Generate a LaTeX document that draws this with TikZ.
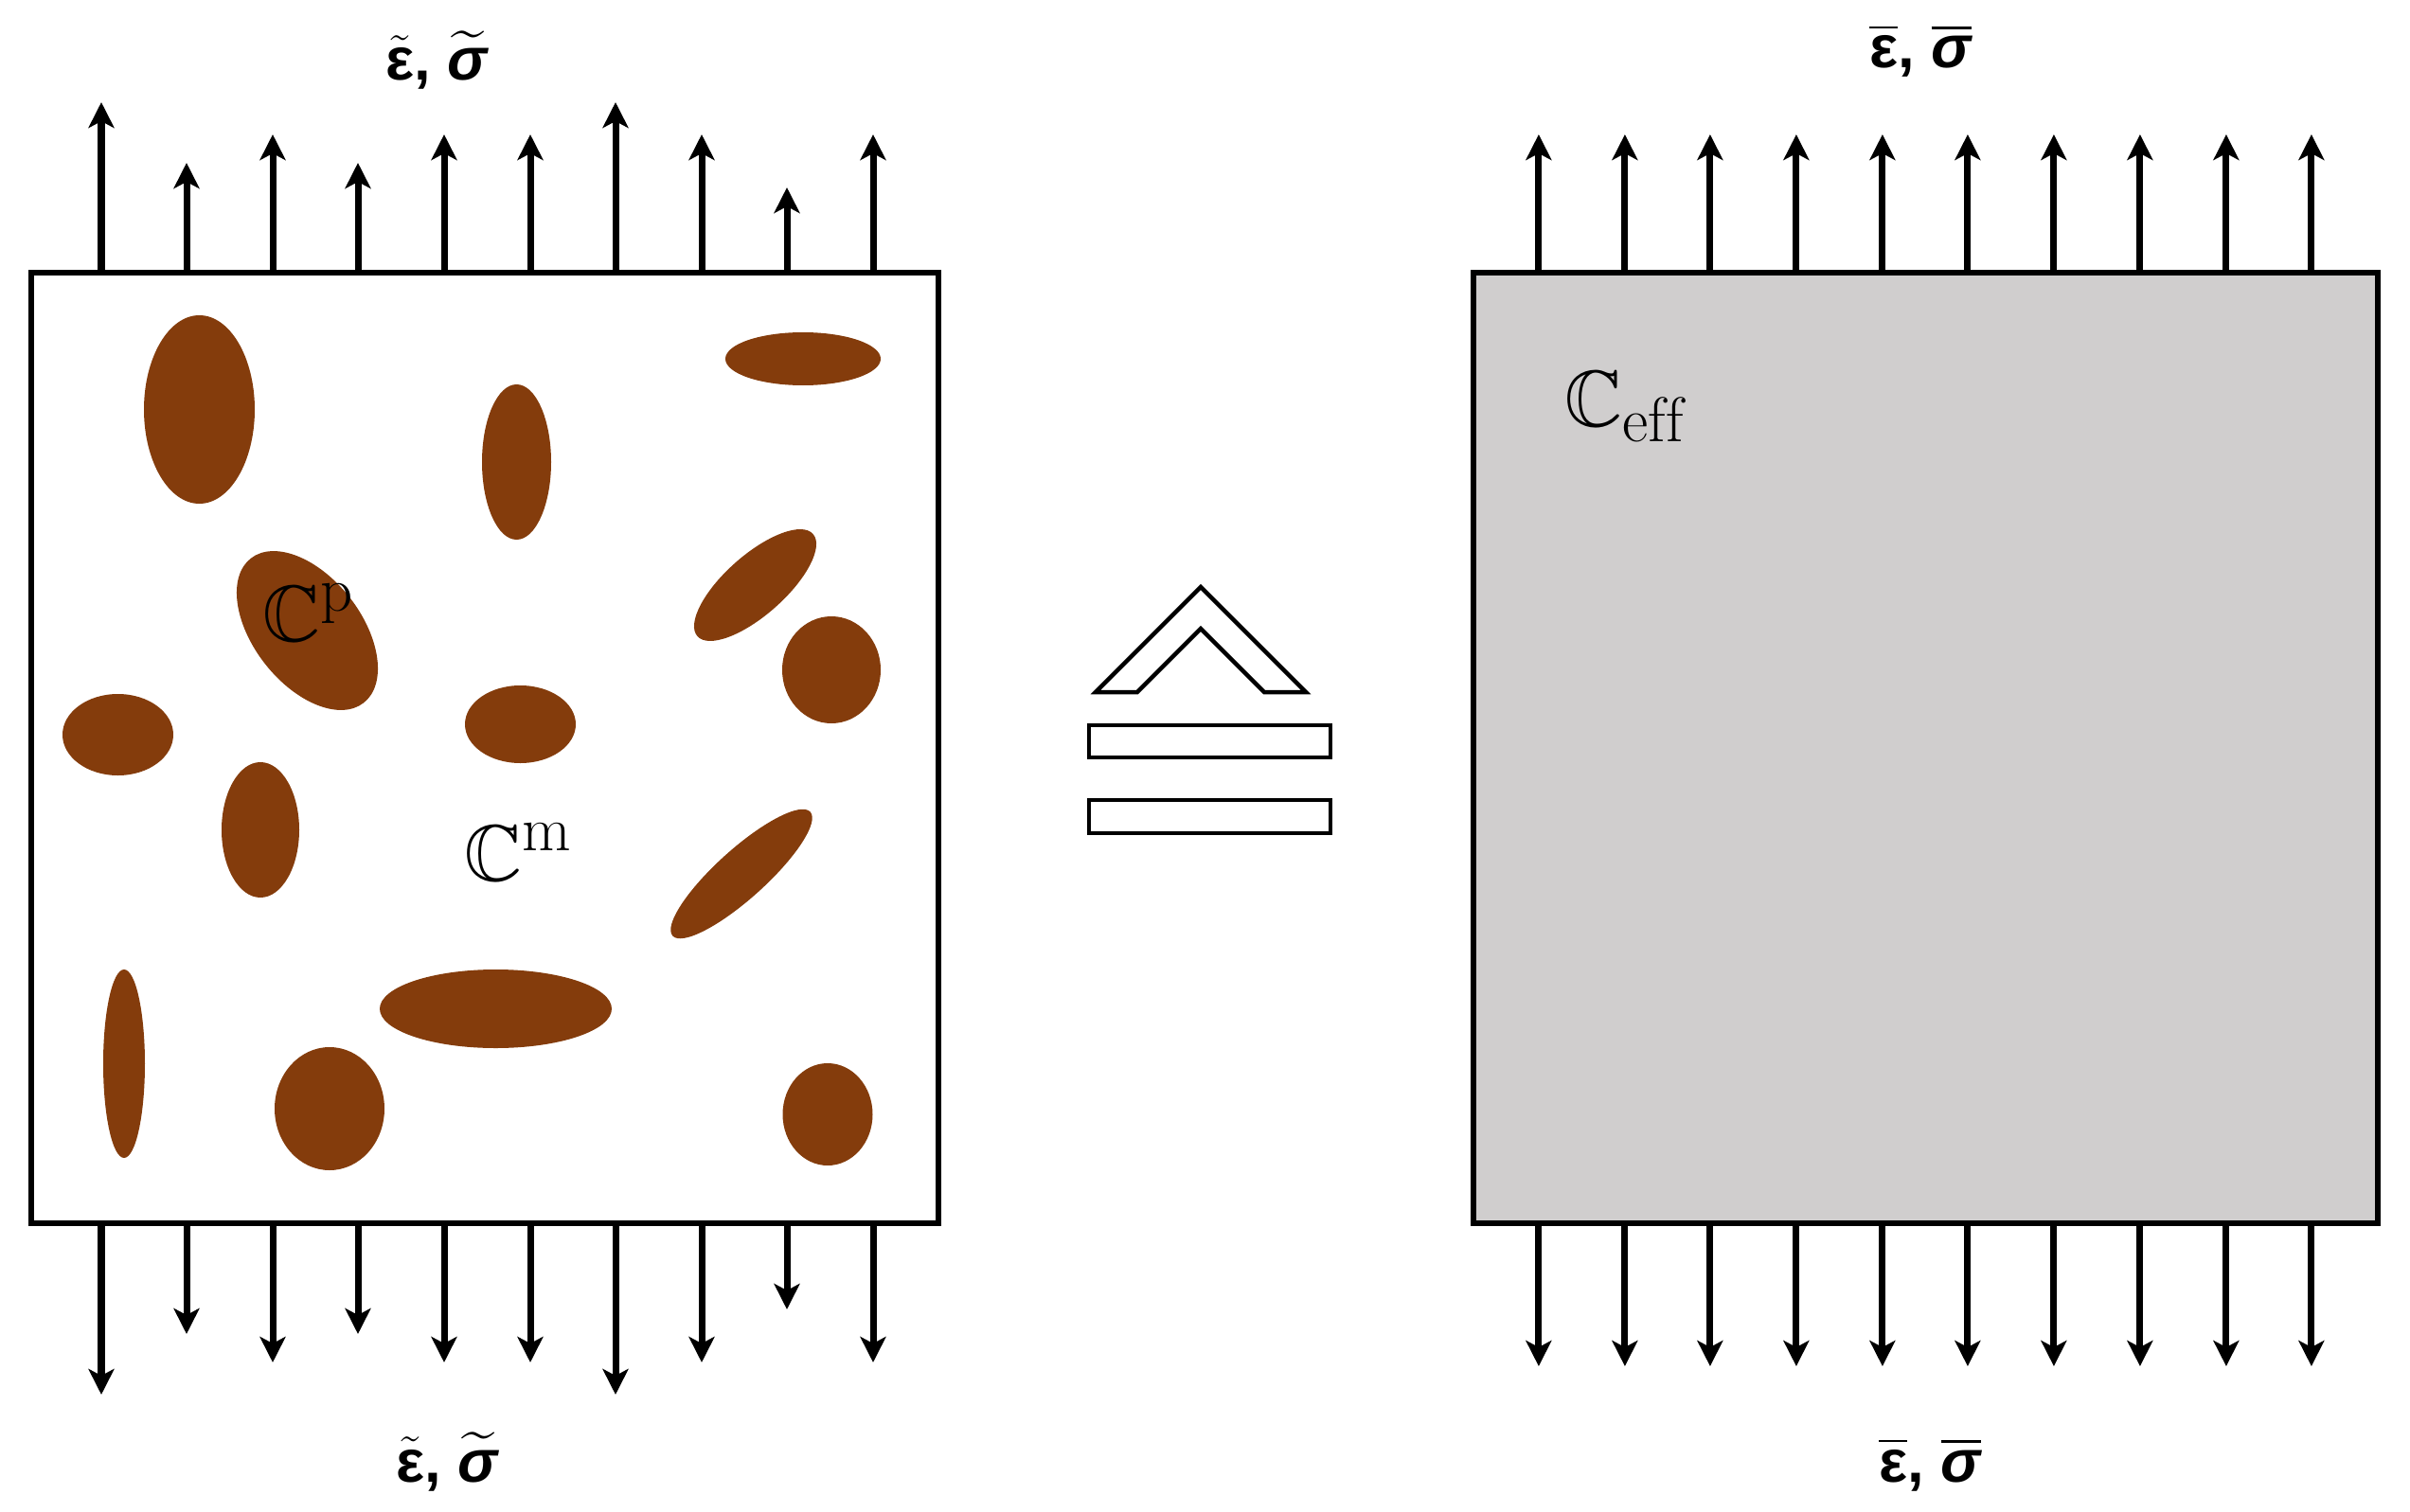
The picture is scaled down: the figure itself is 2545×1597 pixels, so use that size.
\documentclass[tikz,border=0pt]{standalone}
\usepackage{amssymb,amsmath}
\usepackage{fontspec}
\usepackage{tikz}
\usetikzlibrary{arrows.meta}
\newfontfamily\greekfont{Liberation Sans}
\DeclareMathSizes{24}{24}{19}{15}
\definecolor{grain}{RGB}{132,60,12}
\definecolor{effgray}{RGB}{208,206,206}

\begin{document}
\begin{tikzpicture}[x=0.01cm,y=-0.01cm,
    frame/.style={line width=0.055cm},
    sign/.style={line width=0.045cm},
    force/.style={line width=0.07cm,-{Stealth[length=0.27cm,width=0.27cm,inset=0.07cm]}},
    tens/.style={font=\fontsize{18}{20}\selectfont\greekfont\bfseries,inner sep=0pt,anchor=base},
    modul/.style={font=\fontsize{24}{28}\selectfont,inner sep=0pt,anchor=base west}]
        \useasboundingbox (0,0) rectangle (2545,1597);
        % heterogeneous cell
        \coordinate (P) at (33,288);
        \coordinate (Q) at (991,1292);
        \draw[frame] (P) rectangle (Q);
        \fill[grain] (210.5,432.5) ellipse [x radius=58.5, y radius=99.5];
        \fill[grain] (324.5,666) ellipse [x radius=96.8, y radius=56.8, rotate=-52];
        \fill[grain] (124.5,776) ellipse [x radius=58.5, y radius=43];
        \fill[grain] (848,379) ellipse [x radius=82, y radius=28];
        \fill[grain] (545.5,488) ellipse [x radius=36.5, y radius=82];
        \fill[grain] (797.5,618) ellipse [x radius=81.5, y radius=31.6, rotate=41.5];
        \fill[grain] (878,707.5) ellipse [x radius=52, y radius=56.5];
        \fill[grain] (549.5,765) ellipse [x radius=58.5, y radius=41];
        \fill[grain] (275,876.5) ellipse [x radius=41, y radius=71.5];
        \fill[grain] (131,1123.5) ellipse [x radius=22, y radius=99.5];
        \fill[grain] (348,1171) ellipse [x radius=58, y radius=65];
        \fill[grain] (523.5,1065.5) ellipse [x radius=122.5, y radius=41.5];
        \fill[grain] (783,923) ellipse [x radius=97.8, y radius=26, rotate=42];
        \fill[grain] (874,1177) ellipse [x radius=47.5, y radius=54];
        \node[modul] (Cp) at (277,677) {$\mathbb{C}^{\mathrm{p}}$};
        \node[modul] (Cm) at (490,930) {$\mathbb{C}^{\mathrm{m}}$};
        \node[tens] (tl) at (461,85) {$\tilde{\text{ε}}$, $\widetilde{\text{\itshape σ}}$};
        \node[tens] (bl) at (472,1565) {$\tilde{\text{ε}}$, $\widetilde{\text{\itshape σ}}$};
        % top arrows
        \coordinate (A1) at (107,288); \coordinate (a1) at (107,108); \draw[force] (A1)--(a1);
        \coordinate (A2) at (197,288); \coordinate (a2) at (197,172); \draw[force] (A2)--(a2);
        \coordinate (A3) at (288,288); \coordinate (a3) at (288,142); \draw[force] (A3)--(a3);
        \coordinate (A4) at (378,288); \coordinate (a4) at (378,172); \draw[force] (A4)--(a4);
        \coordinate (A5) at (469,288); \coordinate (a5) at (469,142); \draw[force] (A5)--(a5);
        \coordinate (A6) at (560,288); \coordinate (a6) at (560,142); \draw[force] (A6)--(a6);
        \coordinate (A7) at (650,288); \coordinate (a7) at (650,108); \draw[force] (A7)--(a7);
        \coordinate (A8) at (741,288); \coordinate (a8) at (741,142); \draw[force] (A8)--(a8);
        \coordinate (A9) at (831,288); \coordinate (a9) at (831,198); \draw[force] (A9)--(a9);
        \coordinate (A10) at (922,288); \coordinate (a10) at (922,142); \draw[force] (A10)--(a10);
        % bottom arrows
        \coordinate (B1) at (107,1292); \coordinate (b1) at (107,1473); \draw[force] (B1)--(b1);
        \coordinate (B2) at (197,1292); \coordinate (b2) at (197,1409); \draw[force] (B2)--(b2);
        \coordinate (B3) at (288,1292); \coordinate (b3) at (288,1439); \draw[force] (B3)--(b3);
        \coordinate (B4) at (378,1292); \coordinate (b4) at (378,1409); \draw[force] (B4)--(b4);
        \coordinate (B5) at (469,1292); \coordinate (b5) at (469,1439); \draw[force] (B5)--(b5);
        \coordinate (B6) at (560,1292); \coordinate (b6) at (560,1439); \draw[force] (B6)--(b6);
        \coordinate (B7) at (650,1292); \coordinate (b7) at (650,1473); \draw[force] (B7)--(b7);
        \coordinate (B8) at (741,1292); \coordinate (b8) at (741,1439); \draw[force] (B8)--(b8);
        \coordinate (B9) at (831,1292); \coordinate (b9) at (831,1383); \draw[force] (B9)--(b9);
        \coordinate (B10) at (922,1292); \coordinate (b10) at (922,1439); \draw[force] (B10)--(b10);

        % correspondence sign
        \draw[sign] (1157,731) -- (1268,620) -- (1379,731) -- (1335,731) -- (1268,664) -- (1201,731) -- cycle;
        \draw[sign] (1150,766) rectangle (1405,800);
        \draw[sign] (1150,845) rectangle (1405,880);

        \begin{scope}[xshift=15.22cm]
          % homogenized cell
          \coordinate (P) at (33,288);
          \coordinate (Q) at (988,1292);
          \draw[frame,fill=effgray] (P) rectangle (Q);
          \node[modul] (Ceff) at (129,450) {$\mathbb{C}_{\mathrm{eff}}$};
          \node[tens] (tr) at (505,72) {$\overline{\text{ε}}$, $\overline{\text{\itshape σ}}$};
          \node[tens] (br) at (515,1565) {$\overline{\text{ε}}$, $\overline{\text{\itshape σ}}$};
          \coordinate (A1) at (102,288); \coordinate (a1) at (102,142); \draw[force] (A1)--(a1);
          \coordinate (A2) at (193,288); \coordinate (a2) at (193,142); \draw[force] (A2)--(a2);
          \coordinate (A3) at (283,288); \coordinate (a3) at (283,142); \draw[force] (A3)--(a3);
          \coordinate (A4) at (374,288); \coordinate (a4) at (374,142); \draw[force] (A4)--(a4);
          \coordinate (A5) at (465,288); \coordinate (a5) at (465,142); \draw[force] (A5)--(a5);
          \coordinate (A6) at (555,288); \coordinate (a6) at (555,142); \draw[force] (A6)--(a6);
          \coordinate (A7) at (646,288); \coordinate (a7) at (646,142); \draw[force] (A7)--(a7);
          \coordinate (A8) at (737,288); \coordinate (a8) at (737,142); \draw[force] (A8)--(a8);
          \coordinate (A9) at (828,288); \coordinate (a9) at (828,142); \draw[force] (A9)--(a9);
          \coordinate (A10) at (918,288); \coordinate (a10) at (918,142); \draw[force] (A10)--(a10);
          \coordinate (B1) at (102,1295); \coordinate (b1) at (102,1443); \draw[force] (B1)--(b1);
          \coordinate (B2) at (193,1295); \coordinate (b2) at (193,1443); \draw[force] (B2)--(b2);
          \coordinate (B3) at (283,1295); \coordinate (b3) at (283,1443); \draw[force] (B3)--(b3);
          \coordinate (B4) at (374,1295); \coordinate (b4) at (374,1443); \draw[force] (B4)--(b4);
          \coordinate (B5) at (465,1295); \coordinate (b5) at (465,1443); \draw[force] (B5)--(b5);
          \coordinate (B6) at (555,1295); \coordinate (b6) at (555,1443); \draw[force] (B6)--(b6);
          \coordinate (B7) at (646,1295); \coordinate (b7) at (646,1443); \draw[force] (B7)--(b7);
          \coordinate (B8) at (737,1295); \coordinate (b8) at (737,1443); \draw[force] (B8)--(b8);
          \coordinate (B9) at (828,1295); \coordinate (b9) at (828,1443); \draw[force] (B9)--(b9);
          \coordinate (B10) at (918,1295); \coordinate (b10) at (918,1443); \draw[force] (B10)--(b10);
        \end{scope}
      \end{tikzpicture}
\end{document}
